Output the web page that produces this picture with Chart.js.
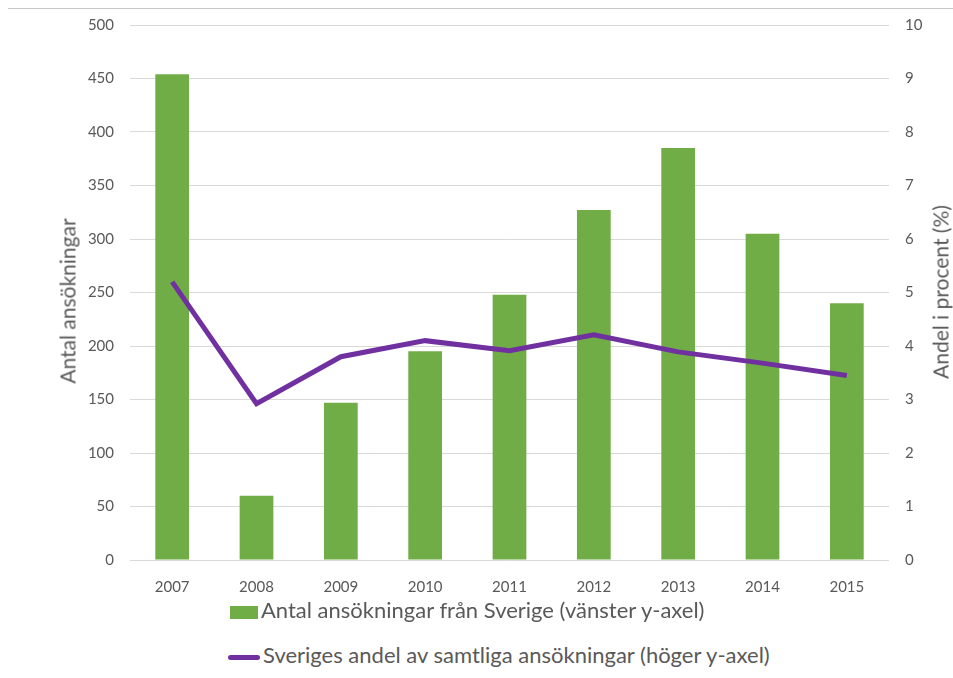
<!DOCTYPE html>
<html>
<head>
<meta charset="utf-8">
<script src="https://cdn.jsdelivr.net/npm/chart.js@4"></script>
<style>
  body { margin: 0; background: #fff; font-family: Lato, sans-serif; }
  #wrap { position: relative; width: 953px; height: 678px; }
  #topLine { position: absolute; left: 8px; right: 0; top: 8px; border-top: 1px solid #c8c8c8; }
  #box { position: absolute; left: 0; top: 0; width: 953px; height: 600px; }
  .leg { position: absolute; left: 228px; font-size: 22px; color: #595959; white-space: nowrap; }
  .leg .sw { display: inline-block; vertical-align: middle; margin-right: 3px; }
  .axTitle { position: absolute; font-size: 21px; color: #595959; white-space: nowrap;
             transform: translate(-50%, -50%) rotate(-90deg); }
</style>
</head>
<body>
<div id="wrap">
  <div id="topLine"></div>
  <div id="box"><canvas id="chart"></canvas></div>
  <div class="axTitle" style="left:67px;top:301px">Antal ansökningar</div>
  <div class="axTitle" style="left:940px;top:292px">Andel i procent (%)</div>
  <div class="leg" id="leg1" style="top:596px"></div>
  <div class="leg" id="leg2" style="top:641px"></div>
</div>
<script>
// data
const years = ['2007', '2008', '2009', '2010', '2011', '2012', '2013', '2014', '2015'];
const antalAnsokningar = [454, 60, 147, 195, 248, 327, 385, 305, 240];
const andelProcent = [5.2, 2.92, 3.8, 4.1, 3.91, 4.21, 3.89, 3.68, 3.45];

const barLabel  = 'Antal ansökningar från Sverige (vänster y-axel)';
const lineLabel = 'Sveriges andel av samtliga ansökningar (höger y-axel)';

const green  = '#70AD47';
const purple = '#7030A0';
const textCol = '#595959';

// legend (html, left aligned like the original)
document.getElementById('leg1').innerHTML =
    '<span class="sw" style="width:28px;height:13px;background:' + green + ';margin-left:2px"></span>' + barLabel;
document.getElementById('leg2').innerHTML =
    '<span class="sw" style="width:32px;height:5px;border-radius:3px;background:' + purple + '"></span>' + lineLabel;

const tickFont = { family: 'Lato', size: 15 };

new Chart(document.getElementById('chart'), {
    data: {
        labels: years,
        datasets: [
            {
                type: 'line',
                label: lineLabel,
                data: andelProcent,
                yAxisID: 'yRight',
                borderColor: purple,
                borderWidth: 5,
                pointRadius: 0,
                tension: 0,
                order: 0
            },
            {
                type: 'bar',
                label: barLabel,
                data: antalAnsokningar,
                yAxisID: 'yLeft',
                backgroundColor: green,
                categoryPercentage: 1,
                barPercentage: 0.4,
                order: 1
            }
        ]
    },
    options: {
        responsive: true,
        maintainAspectRatio: false,
        animation: false,
        layout: { padding: { left: 0, top: 25, right: 0, bottom: 0 } },
        plugins: {
            legend: { display: false },
            tooltip: { enabled: false }
        },
        scales: {
            x: {
                grid: { display: false },
                border: { display: false },
                ticks: { color: textCol, font: tickFont, padding: 10 },
                afterFit: (s) => { s.height = 40; }
            },
            yLeft: {
                position: 'left',
                min: 0, max: 500,
                ticks: { stepSize: 50, color: textCol, font: tickFont, padding: 16 },
                grid: { color: '#d9d9d9', drawTicks: false },
                border: { display: false },
                afterFit: (s) => { s.width = 130; }
            },
            yRight: {
                position: 'right',
                min: 0, max: 10,
                ticks: { stepSize: 1, color: textCol, font: tickFont, padding: 16 },
                grid: { display: false, drawTicks: false },
                border: { display: false },
                afterFit: (s) => { s.width = 64; }
            }
        }
    }
});
</script>
</body>
</html>
